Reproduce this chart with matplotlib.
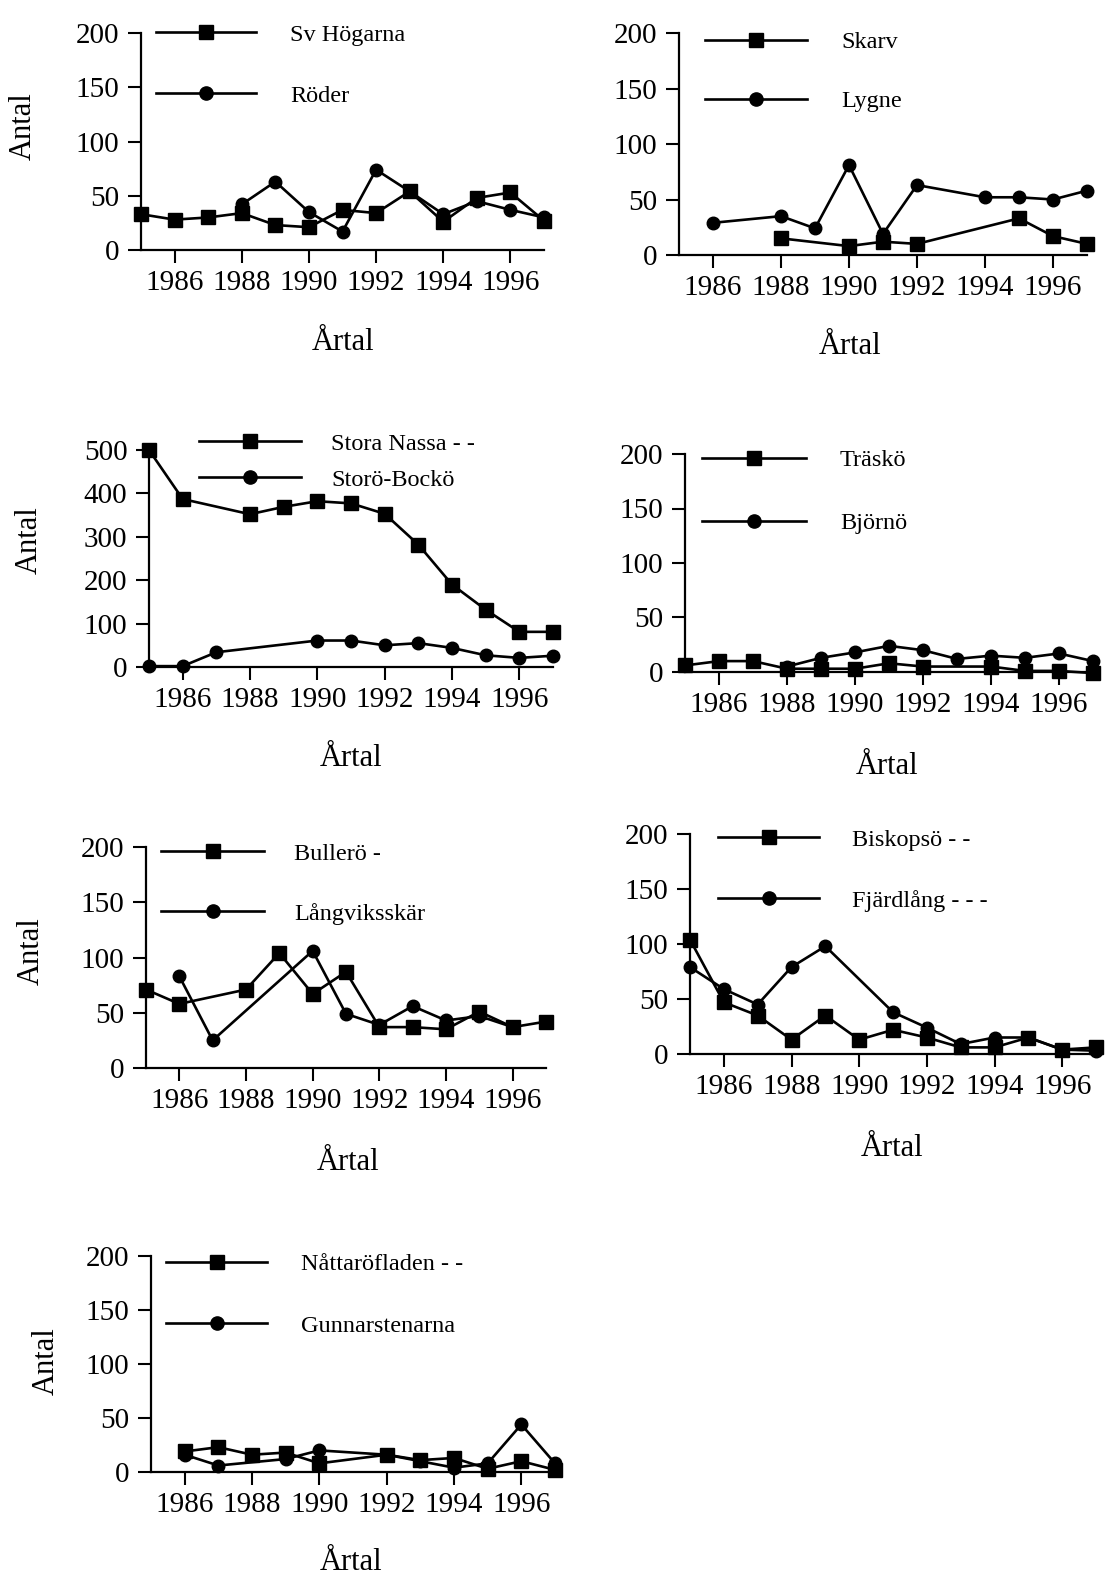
import matplotlib
matplotlib.use("Agg")
import matplotlib.pyplot as plt
import numpy as np
from matplotlib.lines import Line2D

plt.rcParams['font.family'] = ['Liberation Serif', 'DejaVu Serif']

W, H = 1105, 1576

# ---------------- data ----------------
# Panel 1
sv_hogarna_years = [1985, 1986, 1987, 1988, 1989, 1990, 1991, 1992, 1993, 1994, 1995, 1996, 1997]
sv_hogarna_vals = [33, 28, 30, 34, 23, 21, 37, 34, 54, 26, 48, 53, 27]
roder_years = [1988, 1989, 1990, 1991, 1992, 1993, 1994, 1995, 1996, 1997]
roder_vals = [42, 63, 35, 17, 74, 54, 33, 45, 37, 30]

# Panel 2
skarv_years = [1988, 1990, 1991, 1992, 1995, 1996, 1997]
skarv_vals = [15, 8, 12, 10, 33, 17, 10]
lygne_years = [1986, 1988, 1989, 1990, 1991, 1992, 1994, 1995, 1996, 1997]
lygne_vals = [29, 35, 24, 81, 19, 63, 52, 52, 50, 58]

# Panel 3
stora_nassa_years = [1985, 1986, 1988, 1989, 1990, 1991, 1992, 1993, 1994, 1995, 1996, 1997]
stora_nassa_vals = [500, 387, 352, 369, 382, 377, 353, 282, 190, 132, 81, 81]
storo_bocko_years = [1985, 1986, 1987, 1990, 1991, 1992, 1993, 1994, 1995, 1996, 1997]
storo_bocko_vals = [2, 2, 34, 61, 61, 50, 55, 44, 27, 21, 26]

# Panel 4
trasko_years = [1985, 1986, 1987, 1988, 1989, 1990, 1991, 1992, 1994, 1995, 1996, 1997]
trasko_vals = [6, 10, 10, 3, 3, 3, 8, 5, 5, 1, 1, -1]
bjorno_years = [1988, 1989, 1990, 1991, 1992, 1993, 1994, 1995, 1996, 1997]
bjorno_vals = [5, 13, 18, 24, 20, 12, 15, 13, 17, 10]

# Panel 5
bullero_years = [1985, 1986, 1988, 1989, 1990, 1991, 1992, 1993, 1994, 1995, 1996, 1997]
bullero_vals = [71, 58, 71, 104, 67, 87, 37, 37, 35, 51, 37, 42]
langviksskar_years = [1986, 1987, 1990, 1991, 1992, 1993, 1994, 1995, 1996]
langviksskar_vals = [83, 25, 106, 49, 39, 56, 43, 47, 37]

# Panel 6
biskopso_years = [1985, 1986, 1987, 1988, 1989, 1990, 1991, 1992, 1993, 1994, 1995, 1996, 1997]
biskopso_vals = [104, 47, 35, 13, 35, 13, 22, 15, 6, 6, 15, 4, 6]
fjardlang_years = [1985, 1986, 1987, 1988, 1989, 1991, 1992, 1993, 1994, 1995, 1996, 1997]
fjardlang_vals = [79, 59, 45, 79, 98, 38, 24, 9, 15, 15, 4, 3]

# Panel 7
nattarofladen_years = [1986, 1987, 1988, 1989, 1990, 1992, 1993, 1994, 1995, 1996, 1997]
nattarofladen_vals = [19, 23, 16, 18, 8, 16, 11, 13, 3, 10, 2]
gunnarstenarna_years = [1986, 1987, 1989, 1990, 1992, 1993, 1994, 1995, 1996, 1997]
gunnarstenarna_vals = [16, 6, 12, 20, 16, 10, 4, 8, 44, 8]

xtick_years = [1986, 1988, 1990, 1992, 1994, 1996]
yticks_200 = [0, 50, 100, 150, 200]
yticks_500 = [0, 100, 200, 300, 400, 500]

# ---------------- figure ----------------
fig = plt.figure(figsize=(W / 100, H / 100), dpi=100)

TICKFS = 21
LEGFS = 17.5
LW = 1.9
MS = 9.5


def fx(x):
    return x / W


def fy(y):
    return 1 - y / H


def make_ax(x0, x1, y0, ytop, ymax, yticks):
    ax = fig.add_axes([fx(x0), fy(y0), (x1 - x0) / W, (y0 - ytop) / H])
    ax.set_xlim(1985, 1997)
    ax.set_ylim(0, ymax)
    ax.patch.set_alpha(0)
    for s in ['top', 'right']:
        ax.spines[s].set_visible(False)
    for s in ['left', 'bottom']:
        ax.spines[s].set_linewidth(1.6)
    ax.set_xticks(xtick_years)
    ax.set_xticklabels([str(y) for y in xtick_years])
    ax.set_yticks(yticks)
    ax.tick_params(axis='both', direction='out', length=9.5, width=1.5,
                   labelsize=TICKFS, pad=5)
    ax.tick_params(axis='y', pad=6)
    return ax


def draw(ax, years, vals, marker):
    ax.plot(years, vals, '-', color='black', lw=LW, marker=marker,
            ms=MS if marker == 's' else MS * 0.95,
            mfc='black', mec='black', clip_on=False, zorder=3)


def legend(xl0, xl1, y1, y2, x_text, lab1, lab2):
    xm = (xl0 + xl1) / 2
    for y, mk, lab in [(y1, 's', lab1), (y2, 'o', lab2)]:
        fig.add_artist(Line2D([fx(xl0), fx(xl1)], [fy(y), fy(y)], color='black',
                              lw=LW, transform=fig.transFigure))
        fig.add_artist(Line2D([fx(xm)], [fy(y)], marker=mk, ms=MS, color='black',
                              transform=fig.transFigure, lw=0))
        fig.text(fx(x_text), fy(y + 3), lab, fontsize=LEGFS, va='center', ha='left')


def xlabel(x, y):
    fig.text(fx(x), fy(y), 'Årtal', fontsize=22, ha='center', va='center')


def ylabel(x, y):
    fig.text(fx(x), fy(y), 'Antal', fontsize=22, ha='center', va='center', rotation=90)


# Panel 1
ax1 = make_ax(141, 544, 250, 33, 200, yticks_200)
draw(ax1, sv_hogarna_years, sv_hogarna_vals, 's')
draw(ax1, roder_years, roder_vals, 'o')
legend(156, 256, 32, 93, 290, 'Sv Högarna', 'Röder')
xlabel(343, 342)
ylabel(23, 126)

# Panel 2
ax2 = make_ax(679, 1087, 255, 33, 200, yticks_200)
draw(ax2, skarv_years, skarv_vals, 's')
draw(ax2, lygne_years, lygne_vals, 'o')
legend(705, 807, 40, 99, 841, 'Skarv', 'Lygne')
xlabel(850, 347)

# Panel 3
ax3 = make_ax(149, 553, 667, 450, 500, yticks_500)
draw(ax3, stora_nassa_years, stora_nassa_vals, 's')
draw(ax3, storo_bocko_years, storo_bocko_vals, 'o')
legend(199, 301, 441, 477, 331, 'Stora Nassa - -', 'Storö-Bockö')
xlabel(351, 758)
ylabel(29, 540)

# Panel 4
ax4 = make_ax(685, 1093, 672, 454, 200, yticks_200)
draw(ax4, trasko_years, trasko_vals, 's')
draw(ax4, bjorno_years, bjorno_vals, 'o')
legend(702, 806, 458, 521, 840, 'Träskö', 'Björnö')
xlabel(887, 766)

# Panel 5
ax5 = make_ax(146, 546, 1068, 847, 200, yticks_200)
draw(ax5, bullero_years, bullero_vals, 's')
draw(ax5, langviksskar_years, langviksskar_vals, 'o')
legend(161, 264, 851, 911, 294, 'Bullerö -', 'Långviksskär')
xlabel(348, 1163)
ylabel(31, 951)

# Panel 6
ax6 = make_ax(690, 1096, 1054, 834, 200, yticks_200)
draw(ax6, biskopso_years, biskopso_vals, 's')
draw(ax6, fjardlang_years, fjardlang_vals, 'o')
legend(718, 819, 837, 898, 852, 'Biskopsö - -', 'Fjärdlång - - -')
xlabel(892, 1149)

# Panel 7
ax7 = make_ax(151, 555, 1472, 1256, 200, yticks_200)
draw(ax7, nattarofladen_years, nattarofladen_vals, 's')
draw(ax7, gunnarstenarna_years, gunnarstenarna_vals, 'o')
legend(166, 267, 1262, 1323, 301, 'Nåttaröfladen - -', 'Gunnarstenarna')
xlabel(351, 1562)
ylabel(46, 1361)

fig.savefig('out.png', dpi=100)
